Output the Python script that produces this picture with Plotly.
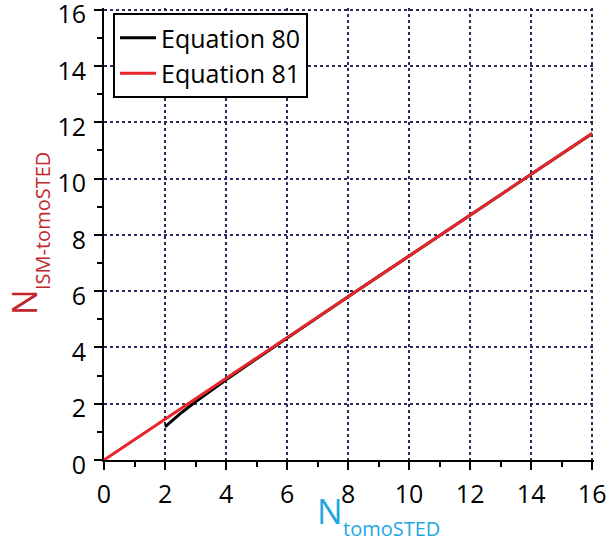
import plotly.graph_objects as go

# Data
eq80_x = [2, 2.25, 2.5, 3, 3.5, 4, 5, 6, 8, 10, 12, 14, 16]
eq80_y = [1.18, 1.42, 1.65, 2.07, 2.47, 2.85, 3.6, 4.34, 5.8, 7.25, 8.7, 10.15, 11.6]
eq81_x = [0, 16]
eq81_y = [0, 11.6]
axis_range = [0, 16.06]
tick_step = 2

FONT = "Open Sans"
GRID = "#2b2d5e"

fig = go.Figure()
fig.add_trace(go.Scatter(x=eq80_x, y=eq80_y, mode="lines", name="Equation 80",
                         legendgroup="a", line=dict(color="black", width=3)))
fig.add_trace(go.Scatter(x=eq81_x, y=eq81_y, mode="lines", name="Equation 81",
                         legendgroup="b", line=dict(color="#e8252a", width=3)))

axis_common = dict(
    range=axis_range, tickmode="linear", tick0=0, dtick=tick_step,
    showline=True, linecolor="black", linewidth=2,
    ticks="outside", ticklen=8, tickwidth=2, tickcolor="black",
    minor=dict(ticks="outside", ticklen=5, tickwidth=2, tickcolor="black", dtick=1, showgrid=False),
    showgrid=True, gridcolor=GRID, gridwidth=2, griddash="dot",
    zeroline=False, tickfont=dict(family=FONT, size=25, color="black"),
    ticklabelstandoff=3, ticklabeloverflow="allow", automargin=False,
)
fig.update_xaxes(**axis_common)
fig.update_yaxes(**axis_common)
fig.update_yaxes(ticklabelshift=5)

L, R, B, T = 104, 594, 460, 8

def px2paper(px, py):
    return (px - L) / (R - L), (B - py) / (B - T)

annots = []
x, y = px2paper(330, 511)
annots.append(dict(text="N", x=x, y=y, font=dict(family=FONT, size=34, color="#1ea7e1")))
x, y = px2paper(391, 528)
annots.append(dict(text="tomoSTED", x=x, y=y, font=dict(family=FONT, size=20, color="#1ea7e1")))
x, y = px2paper(24, 302)
annots.append(dict(text="N", x=x, y=y, textangle=-90, font=dict(family=FONT, size=34, color="#c1272d")))
x, y = px2paper(42, 221)
annots.append(dict(text="ISM-tomoSTED", x=x, y=y, textangle=-90, font=dict(family=FONT, size=20, color="#c1272d")))
for a in annots:
    a.update(xref="paper", yref="paper", xanchor="center", yanchor="middle", showarrow=False)

lx, ly = px2paper(113, 13)
fig.update_layout(
    width=606, height=542,
    margin=dict(l=L, r=606 - R, t=T, b=542 - B, autoexpand=False),
    plot_bgcolor="white", paper_bgcolor="white",
    annotations=annots,
    legend=dict(x=lx, y=ly, xanchor="left", yanchor="top",
                bgcolor="white", bordercolor="black", borderwidth=2,
                font=dict(family=FONT, size=25, color="black"),
                tracegroupgap=4, traceorder="normal", itemwidth=36),
    showlegend=True,
)

fig.write_html("out.html")
